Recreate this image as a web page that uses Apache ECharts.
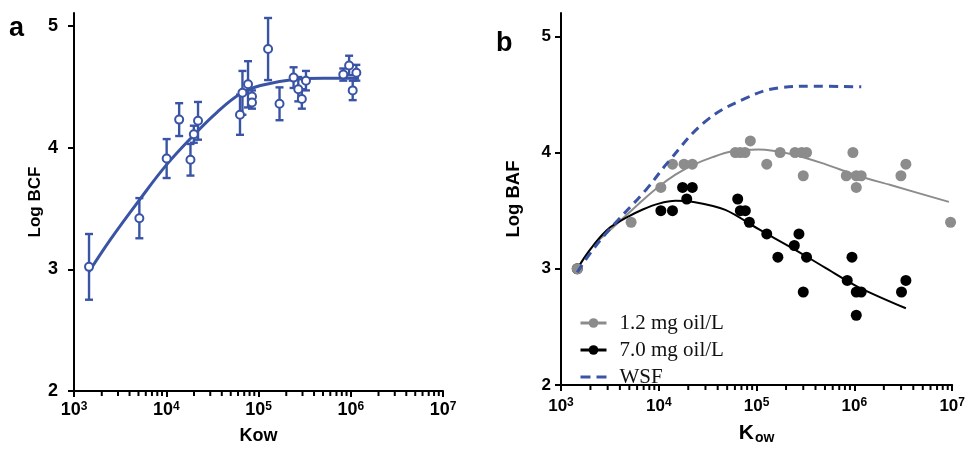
<!DOCTYPE html>
<html><head><meta charset="utf-8">
<script src="https://cdn.jsdelivr.net/npm/echarts@6/dist/echarts.min.js"></script>
<style>html,body{margin:0;padding:0;background:#fff}#c{width:968px;height:450px}</style>
</head><body><div id="c"></div>
<script>
// ---------- Panel a : Log BCF vs Kow ----------
const bcfKow = [1455, 5110, 10100, 13800, 18300, 19900, 22100, 63000, 67000, 77000, 85000, 85000, 127000, 169000, 240000, 270000, 295000, 327000, 830000, 960000, 1050000, 1150000];
const bcfLog = [3.02, 3.42, 3.91, 4.23, 3.90, 4.11, 4.22, 4.27, 4.45, 4.52, 4.42, 4.37, 4.81, 4.36, 4.575, 4.48, 4.40, 4.55, 4.60, 4.675, 4.47, 4.615];
const bcfErr = [0.27, 0.165, 0.16, 0.135, 0.13, 0.07, 0.155, 0.165, 0.18, 0.19, 0.05, 0.05, 0.255, 0.135, 0.085, 0.10, 0.08, 0.08, 0.05, 0.08, 0.08, 0.065];
const bcfFitKow = [1455, 2510, 5120, 10100, 19700, 35500, 63100, 105000, 240000, 500000, 1000000, 1230000];
const bcfFitLog = [2.98, 3.25, 3.57, 3.86, 4.10, 4.29, 4.44, 4.51, 4.56, 4.57, 4.57, 4.57];

// ---------- Panel b : Log BAF vs Kow ----------
const grayKow = [1466, 5210, 10500, 13800, 18100, 22000, 60700, 68000, 76000, 86300, 127000, 174000, 247000, 289000, 324000, 300000, 826000, 966000, 1045000, 1045000, 1173000, 2990000, 3360000, 9620000];
const grayLog = [3.0, 3.4, 3.7, 3.9, 3.9, 3.9, 4.0, 4.0, 4.0, 4.1, 3.9, 4.0, 4.0, 4.0, 4.0, 3.8, 3.8, 4.0, 3.7, 3.8, 3.8, 3.8, 3.9, 3.4];
const blackKow = [1466, 10500, 13800, 17500, 19300, 22000, 64100, 68200, 76700, 84300, 127000, 165000, 243000, 271000, 300000, 324000, 845000, 944000, 1045000, 1173000, 1045000, 3030000, 3360000];
const blackLog = [3.0, 3.5, 3.5, 3.7, 3.6, 3.7, 3.6, 3.5, 3.5, 3.4, 3.3, 3.1, 3.2, 3.3, 2.8, 3.1, 2.9, 3.1, 2.8, 2.8, 2.6, 2.8, 2.9];
const grayFitKow = [1466, 2140, 3160, 4650, 6850, 10100, 14800, 22000, 35500, 56200, 105000, 229000, 501000, 1084000, 2344000, 9250000];
const grayFitLog = [3.0, 3.2, 3.33, 3.46, 3.59, 3.71, 3.81, 3.89, 3.96, 4.01, 4.025, 3.985, 3.90, 3.80, 3.72, 3.575];
const blackFitKow = [1466, 1780, 2140, 2630, 3160, 4650, 6850, 10000, 14800, 22400, 47900, 105000, 229000, 501000, 1084000, 3360000];
const blackFitLog = [3.0, 3.11, 3.20, 3.29, 3.355, 3.44, 3.51, 3.56, 3.584, 3.575, 3.507, 3.34, 3.18, 3.01, 2.845, 2.66];
const wsfKow = [1466, 2140, 3390, 7410, 12800, 30200, 76700, 166000, 363000, 1175000];
const wsfLog = [2.97, 3.17, 3.37, 3.68, 3.93, 4.27, 4.465, 4.555, 4.57, 4.565];

const seriesNames = ['1.2 mg oil/L', '7.0 mg oil/L', 'WSF'];
const yTicks = [2, 3, 4, 5];
const minorTicks = [];
for (let d = 3; d < 7; d++) for (let k = 2; k <= 9; k++) minorTicks.push(k * Math.pow(10, d));

const BLUE = '#3a54a5', GRAY = '#8c8c8c', BLACK = '#000';
const SANS = 'Liberation Sans, Arial, Helvetica, sans-serif';
const SERIF = 'Liberation Serif, Times New Roman, serif';

const pairs = (xs, ys) => xs.map((x, i) => [x, ys[i]]);

function xAxisOpt(gi, fs, margin, name, nameGap, nameStyle) {
  return {
    type: 'log', logBase: 10, gridIndex: gi, min: 1000, max: 10000000,
    axisLine: { lineStyle: { color: '#000', width: 2 } },
    axisTick: { length: 6, lineStyle: { color: '#000', width: 2 } },
    splitLine: { show: false },
    axisLabel: {
      margin: margin,
      formatter: v => '{b|10}{s|' + Math.round(Math.log10(v)) + '}',
      rich: {
        b: { fontFamily: SANS, fontWeight: 'bold', fontSize: fs, color: '#000' },
        s: { fontFamily: SANS, fontWeight: 'bold', fontSize: Math.round(fs * 0.68), color: '#000', verticalAlign: 'top', padding: [0, 0, 7, 0] }
      }
    },
    name: name, nameLocation: 'middle', nameGap: nameGap, nameTextStyle: nameStyle
  };
}
function yAxisOpt(gi, max, fs, margin, name, nameGap, nfs) {
  return {
    type: 'value', gridIndex: gi, min: 2, max: max, interval: 1,
    axisLine: { show: true, lineStyle: { color: '#000', width: 2 } },
    axisTick: { show: true, length: 6, customValues: yTicks, lineStyle: { color: '#000', width: 2 } },
    splitLine: { show: false },
    axisLabel: { customValues: yTicks, margin: margin, fontFamily: SANS, fontWeight: 'bold', fontSize: fs, color: '#000' },
    name: name, nameLocation: 'middle', nameGap: nameGap,
    nameTextStyle: { fontFamily: SANS, fontWeight: 'bold', fontSize: nfs, color: '#000' }
  };
}

function minorTickSeries(xi, yi) {
  return {
    type: 'custom', xAxisIndex: xi, yAxisIndex: yi, silent: true, clip: false, z: 1,
    data: minorTicks.map(v => [v, 2]),
    renderItem: (params, api) => {
      const p = api.coord([api.value(0), api.value(1)]);
      return { type: 'line', shape: { x1: p[0], y1: p[1] + 1, x2: p[0], y2: p[1] + 5 }, style: { stroke: '#000', lineWidth: 2 } };
    }
  };
}

const chart = echarts.init(document.getElementById('c'), null, { renderer: 'canvas' });
chart.setOption({
  animation: false,
  backgroundColor: '#fff',
  grid: [
    { left: 74, top: 13, width: 369, height: 382 },
    { left: 561, top: 13, width: 394, height: 379 }
  ],
  xAxis: [
    xAxisOpt(0, 18, 10, 'Kow', 36, { fontFamily: SANS, fontWeight: 'bold', fontSize: 18, color: '#000' }),
    xAxisOpt(1, 17, 12, '{k|K}{s|ow}', 36, {
      rich: {
        k: { fontFamily: SANS, fontWeight: 'bold', fontSize: 21, color: '#000' },
        s: { fontFamily: SANS, fontWeight: 'bold', fontSize: 14, color: '#000', padding: [10, 0, 0, 1] }
      }
    })
  ],
  yAxis: [
    yAxisOpt(0, 5.106, 18, 16, 'Log BCF', 26, 17),
    yAxisOpt(1, 5.2, 17, 10, 'Log BAF', 38, 18.5)
  ],
  legend: {
    left: 574, top: 305, orient: 'vertical', itemWidth: 26, itemHeight: 12, itemGap: 1,
    selectedMode: false,
    data: [seriesNames[0], seriesNames[1], { name: seriesNames[2], icon: 'path://M0,0h10v3h-10z M16,0h10v3h-10z' }],
    lineStyle: { width: 3 },
    textStyle: { fontFamily: SERIF, fontSize: 21, color: '#111', lineHeight: 26, padding: [0, 0, 0, 8] }
  },
  graphic: [
    { type: 'text', left: 9, top: 15, style: { text: 'a', font: 'bold 27px ' + SANS, fill: '#000' } },
    { type: 'text', left: 496, top: 30, style: { text: 'b', font: 'bold 27px ' + SANS, fill: '#000' } }
  ],
  series: [
    minorTickSeries(0, 0),
    minorTickSeries(1, 1),
    // panel a
    {
      type: 'line', xAxisIndex: 0, yAxisIndex: 0, data: pairs(bcfFitKow, bcfFitLog),
      smooth: 0.4, showSymbol: false, symbol: 'none', z: 2,
      lineStyle: { color: BLUE, width: 3 }
    },
    {
      type: 'custom', xAxisIndex: 0, yAxisIndex: 0, z: 3,
      data: bcfKow.map((k, i) => [k, bcfLog[i], bcfErr[i]]),
      renderItem: (params, api) => {
        const x = api.value(0), y = api.value(1), e = api.value(2);
        const t = api.coord([x, y + e]), b = api.coord([x, y - e]);
        const w = 4, st = { stroke: BLUE, lineWidth: 2.4 };
        return { type: 'group', children: [
          { type: 'line', shape: { x1: t[0], y1: t[1], x2: b[0], y2: b[1] }, style: st },
          { type: 'line', shape: { x1: t[0] - w, y1: t[1], x2: t[0] + w, y2: t[1] }, style: st },
          { type: 'line', shape: { x1: b[0] - w, y1: b[1], x2: b[0] + w, y2: b[1] }, style: st }
        ] };
      }
    },
    {
      type: 'scatter', xAxisIndex: 0, yAxisIndex: 0, data: pairs(bcfKow, bcfLog), z: 4,
      symbol: 'circle', symbolSize: 8,
      itemStyle: { color: '#fff', borderColor: BLUE, borderWidth: 2, opacity: 1 }
    },
    // panel b
    {
      name: seriesNames[0], type: 'line', xAxisIndex: 1, yAxisIndex: 1, data: pairs(grayFitKow, grayFitLog),
      smooth: 0.3, showSymbol: false, symbol: 'circle', z: 2, color: GRAY,
      lineStyle: { color: GRAY, width: 2 }, itemStyle: { color: GRAY }
    },
    {
      name: seriesNames[1], type: 'line', xAxisIndex: 1, yAxisIndex: 1, data: pairs(blackFitKow, blackFitLog),
      smooth: 0.3, showSymbol: false, symbol: 'circle', z: 2, color: BLACK,
      lineStyle: { color: BLACK, width: 2 }, itemStyle: { color: BLACK }
    },
    {
      name: seriesNames[1], type: 'scatter', xAxisIndex: 1, yAxisIndex: 1, data: pairs(blackKow, blackLog), z: 3,
      symbol: 'circle', symbolSize: 11, itemStyle: { color: BLACK, opacity: 1 }
    },
    {
      name: seriesNames[0], type: 'scatter', xAxisIndex: 1, yAxisIndex: 1, data: pairs(grayKow, grayLog), z: 3,
      symbol: 'circle', symbolSize: 11, itemStyle: { color: GRAY, opacity: 1 }
    },
    {
      name: seriesNames[2], type: 'line', xAxisIndex: 1, yAxisIndex: 1, data: pairs(wsfKow, wsfLog),
      smooth: 0.4, showSymbol: false, symbol: 'none', z: 5, color: BLUE,
      lineStyle: { color: BLUE, width: 3, type: [9, 6] }, itemStyle: { color: BLUE }
    }
  ]
});
</script>
</body></html>
